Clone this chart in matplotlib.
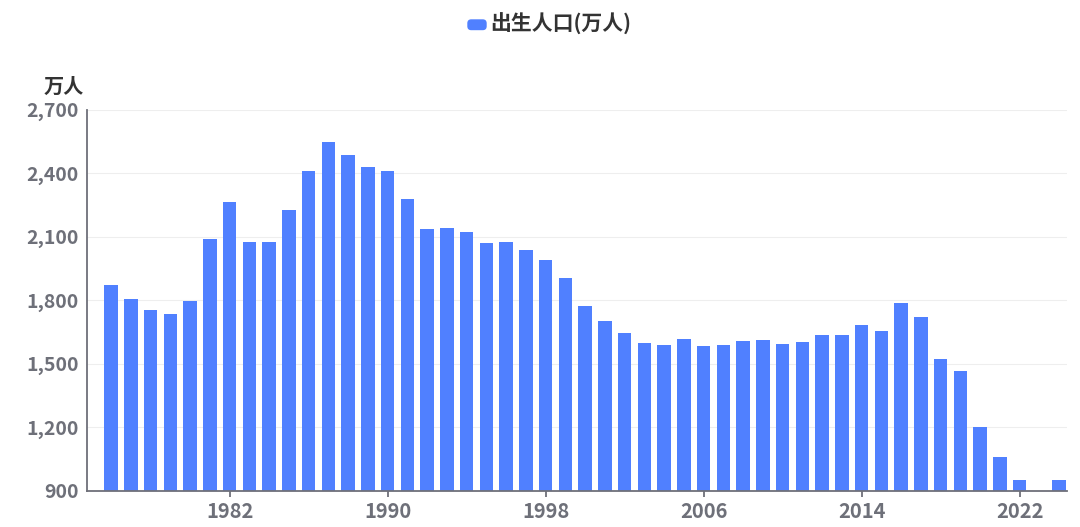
import matplotlib
matplotlib.use("Agg")
import matplotlib.pyplot as plt
from matplotlib.patches import FancyBboxPatch
from matplotlib.ticker import FuncFormatter

plt.rcParams['font.family'] = ['Noto Sans CJK SC', 'DejaVu Sans']

years = list(range(1976, 2025))
births = [1874, 1805, 1756, 1737, 1795, 2091, 2263, 2077, 2074, 2226,
          2409, 2549, 2483, 2431, 2408, 2277, 2135, 2143, 2120, 2072,
          2077, 2036, 1989, 1907, 1775, 1701, 1644, 1597, 1591, 1616,
          1582, 1591, 1607, 1613, 1592, 1602, 1634, 1638, 1684, 1654,
          1785, 1721, 1522, 1464, 1201, 1059, 954, 902, 952]
xtick_years = [1982, 1990, 1998, 2006, 2014, 2022]
yticks = [900, 1200, 1500, 1800, 2100, 2400, 2700]
series_name = "出生人口(万人)"
unit_label = "万人"

bar_color = "#5080FF"
axis_color = "#6E7079"
W, H = 1080, 527
fig = plt.figure(figsize=(W / 100, H / 100), dpi=100)
ax = fig.add_axes([87 / W, (H - 491) / H, (1067 - 87) / W, (491 - 109.5) / H])

ax.bar(years, births, width=0.68, color=bar_color, zorder=2)
ax.set_ylim(900, 2700)
ax.set_xlim(1974.78, 2024.4)
ax.set_yticks(yticks)
ax.yaxis.set_major_formatter(FuncFormatter(lambda v, p: f"{int(v):,}"))
ax.set_xticks(xtick_years)
ax.set_xticklabels([str(y) for y in xtick_years])

for s in ["top", "right"]:
    ax.spines[s].set_visible(False)
for s in ["left", "bottom"]:
    ax.spines[s].set_color(axis_color)
    ax.spines[s].set_linewidth(1.3)

ax.grid(axis="y", color="#EEEEEE", linewidth=0.8, zorder=0)
ax.tick_params(axis="y", length=0, pad=6, labelsize=14, labelcolor=axis_color)
ax.tick_params(axis="x", length=4, width=1.3, color=axis_color, pad=3,
               labelsize=14.5, labelcolor=axis_color)
for lab in ax.get_xticklabels() + ax.get_yticklabels():
    lab.set_fontweight("bold")

fig.text(64 / W, 1 - 86 / H, unit_label, ha="center", va="center",
         fontsize=14.5, fontweight="bold", color="#333333")

# legend at top
patch = FancyBboxPatch((468 / W, 1 - 29.5 / H), 18 / W, 9.5 / H,
                       boxstyle="round,pad=0,rounding_size=0.003",
                       transform=fig.transFigure, color=bar_color,
                       mutation_aspect=W / H)
fig.patches.append(patch)
fig.text(490 / W, 1 - 23.5 / H, series_name, ha="left", va="center",
         fontsize=15, fontweight="bold", color="#333333")

fig.savefig("out.png", dpi=100, facecolor="white")
